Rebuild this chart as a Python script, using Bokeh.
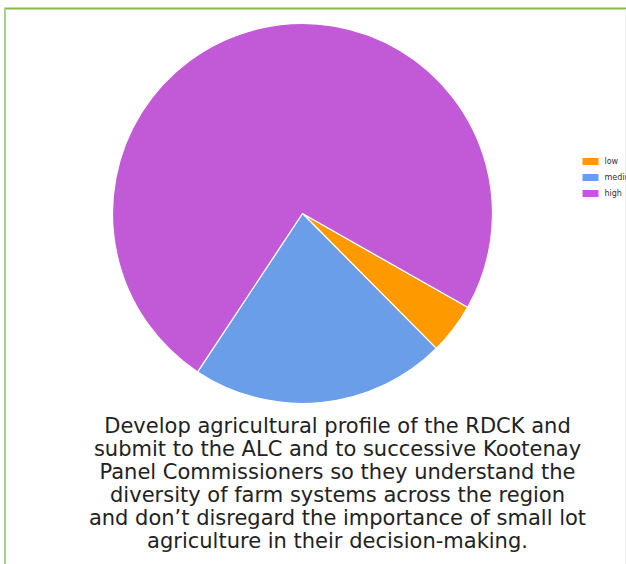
from math import pi
from bokeh.plotting import figure
from bokeh.models import Range1d, ColumnDataSource
from bokeh.embed import file_html
from bokeh.resources import INLINE
from bokeh.core.properties import value

# Data
categories = ["low", "medium", "high"]
counts = [1, 5, 17]
colors = ["#ff9900", "#6b9ee9", "#c25ad7"]
caption_lines = [
    "Develop agricultural profile of the RDCK and",
    "submit to the ALC and to successive Kootenay",
    "Panel Commissioners so they understand the",
    "diversity of farm systems across the region",
    "and don\u2019t disregard the importance of small lot",
    "agriculture in their decision-making.",
]

W, H = 626, 564
PAGE_H = 564  # data y = PAGE_H - page_y

p = figure(width=W, height=H, output_backend="svg", toolbar_location=None,
           x_range=Range1d(0, W), y_range=Range1d(0, H),
           min_border=0)
p.axis.visible = False
p.grid.visible = False
p.outline_line_color = None
p.background_fill_color = "white"
p.border_fill_color = "white"

def py(page_y):
    return PAGE_H - page_y

# Frame lines (green box)
p.line(x=[4, W], y=[py(8), py(8)], line_color="#86b84a", line_width=2)
p.line(x=[4.5, 4.5], y=[py(8), py(564)], line_color="#a9d18e", line_width=2)
p.line(x=[625, 625], y=[py(9), py(564)], line_color="#eeeeee", line_width=1)

# Pie: clockwise from 12 o'clock, starting offset
cx, cy, r = 302, py(213), 190
start_cw = 119.6  # degrees clockwise from top where first slice starts
total = sum(counts)
starts, ends = [], []
acc = start_cw
for c in counts:
    a0 = acc
    a1 = acc + 360.0 * c / total
    starts.append((90 - a1) * pi / 180)
    ends.append((90 - a0) * pi / 180)
    acc = a1

src = ColumnDataSource(dict(cat=categories, start=starts, end=ends, color=colors))
p.wedge(x=cx, y=cy, radius=r, start_angle="start", end_angle="end",
        fill_color="color", line_color="white", line_width=1.2, source=src)

# Legend
leg_x, leg_y0, leg_dy = 590, 161, 16
for i, (cat, col) in enumerate(zip(categories, colors)):
    yy = py(leg_y0 + i * leg_dy)
    p.rect(x=leg_x, y=yy, width=16, height=7, fill_color=col, line_color=None)
    p.text(x=[leg_x + 14], y=[yy], text=[cat], text_font=value("DejaVu Sans"),
           text_font_size="8px", text_color="#333333", text_baseline="middle")

# Caption
base0, dy = 425, 23
for i, line in enumerate(caption_lines):
    p.text(x=[337], y=[py(base0 + i * dy)], text=[line], text_font=value("DejaVu Sans"),
           text_font_size="21px", text_color="#222222", text_align="center",
           text_baseline="alphabetic")

open("out.html", "w").write(file_html(p, INLINE))
